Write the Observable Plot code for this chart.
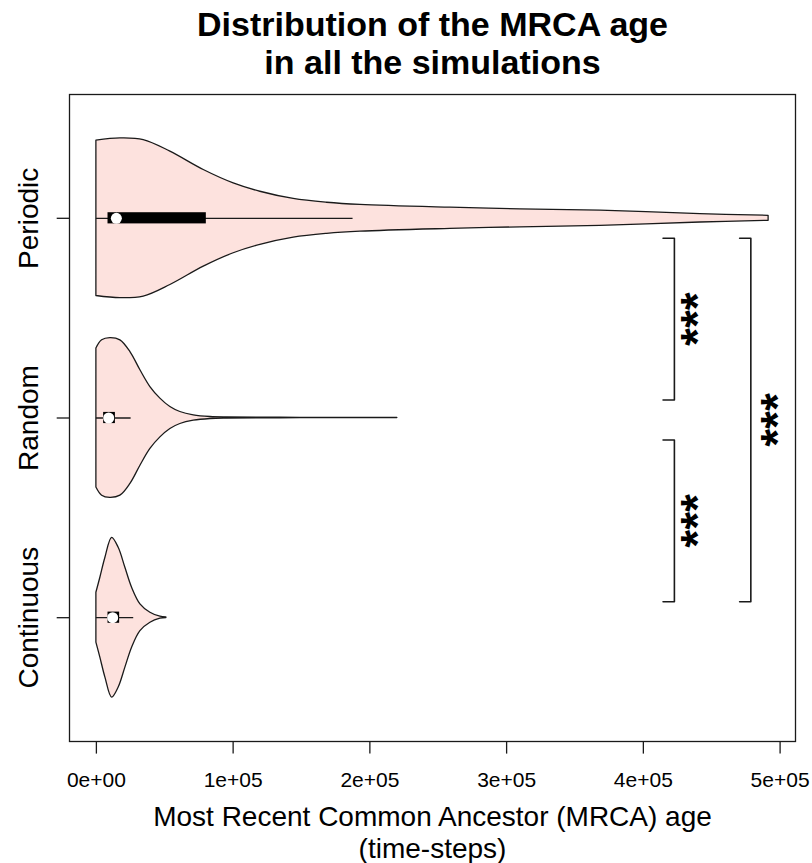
<!DOCTYPE html>
<html><head><meta charset="utf-8">
<script src="https://cdn.jsdelivr.net/npm/d3@7"></script>
<script src="https://cdn.jsdelivr.net/npm/@observablehq/plot@0.6"></script>
<style>
html,body{margin:0;padding:0;background:#fff;}
#chart svg{display:block;}
</style></head>
<body><div id="chart"></div>
<script>
// categories on the y axis (bottom to top)
const categories = ["Continuous", "Random", "Periodic"];
const categoryPos = [1, 2, 3];

// violin outlines: MRCA age and half-width of the violin (in category units)
const periodicAge = [0, 17550, 34600, 54100, 78500, 100400, 119900, 144300, 168700, 193100, 258900, 310100, 368600, 441700, 491600];
const periodicHalfWidth = [0.389, 0.400, 0.392, 0.334, 0.242, 0.175, 0.133, 0.097, 0.078, 0.067, 0.053, 0.045, 0.038, 0.021, 0.0125];
const randomAge = [0, 4200, 10200, 17550, 24900, 32200, 39500, 46800, 54100, 61400, 71200, 83400, 95600, 149200, 220100];
const randomHalfWidth = [0.348, 0.389, 0.400, 0.389, 0.330, 0.239, 0.155, 0.097, 0.055, 0.030, 0.0135, 0.005, 0.0025, 0.001, 0.0005];
const continuousAge = [0, 2900, 6600, 11500, 16300, 21200, 26100, 32200, 39500, 46800, 51200];
const continuousHalfWidth = [0.125, 0.2, 0.3, 0.4, 0.35, 0.25, 0.15, 0.067, 0.025, 0.005, 0.0015];

// box summaries (Continuous, Random, Periodic)
const whiskerLow = [0, 0, 0];
const whiskerHigh = [27300, 25400, 187700];
const q1 = [8500, 5300, 8500];
const q3 = [17000, 13900, 80400];
const medians = [11900, 9000, 14600];

// significance brackets
const bracketTop = [2.9, 1.89, 2.9];
const bracketBottom = [2.09, 1.08, 1.08];
const bracketX = [422700, 422700, 478600];
const bracketTickX = [414400, 414400, 470400];
const starX = [431700, 431700, 490700];
const starLabels = ["***", "***", "***"];

// axis ticks and texts
const xTicks = [0, 100000, 200000, 300000, 400000, 500000];
const xTickLabels = ["0e+00", "1e+05", "2e+05", "3e+05", "4e+05", "5e+05"];
const titleLines = ["Distribution of the MRCA age", "in all the simulations"];
const xTitleLines = ["Most Recent Common Ancestor (MRCA) age", "(time-steps)"];

// build tables
const violins = [
  {cat: "Continuous", pos: 1, age: continuousAge, hw: continuousHalfWidth},
  {cat: "Random", pos: 2, age: randomAge, hw: randomHalfWidth},
  {cat: "Periodic", pos: 3, age: periodicAge, hw: periodicHalfWidth}
];
const violinRows = violins.flatMap(v => v.age.map((a, i) => ({cat: v.cat, age: a, lo: v.pos - v.hw[i], hi: v.pos + v.hw[i]})));
const boxRows = categories.map((c, i) => ({cat: c, pos: categoryPos[i], wlo: whiskerLow[i], whi: whiskerHigh[i], q1: q1[i], q3: q3[i], med: medians[i]}));
const bracketRows = bracketX.flatMap((bx, i) => [
  {id: i, x: bracketTickX[i], y: bracketTop[i]},
  {id: i, x: bx, y: bracketTop[i]},
  {id: i, x: bx, y: bracketBottom[i]},
  {id: i, x: bracketTickX[i], y: bracketBottom[i]}
]);
const starRows = starX.map((x, i) => ({x, y: (bracketTop[i] + bracketBottom[i]) / 2, label: starLabels[i]}));
const xLabelMap = new Map(xTicks.map((t, i) => [t, xTickLabels[i]]));

const boxHalf = 0.028;
const ink = "#1a1a1a";

const chart = Plot.plot({
  width: 812,
  height: 863,
  marginLeft: 69,
  marginRight: 17,
  marginTop: 94,
  marginBottom: 122,
  x: {domain: [-19664, 511264]},
  y: {domain: [0.38, 3.62]},
  style: {fontFamily: "'Liberation Sans', Arial, sans-serif", color: "#000", background: "#fff"},
  marks: [
    Plot.areaY(violinRows, {x: "age", y1: "lo", y2: "hi", z: "cat", fill: "#fde2de", stroke: ink, strokeWidth: 1.3, curve: "catmull-rom"}),
    Plot.ruleY(boxRows, {y: "pos", x1: "wlo", x2: "whi", stroke: ink, strokeWidth: 1.3}),
    Plot.rect(boxRows, {x1: "q1", x2: "q3", y1: d => d.pos - boxHalf, y2: d => d.pos + boxHalf, fill: "#000"}),
    Plot.dot(boxRows, {x: "med", y: "pos", r: 5.5, fill: "#fff", stroke: null}),
    Plot.line(bracketRows, {x: "x", y: "y", z: "id", stroke: ink, strokeWidth: 1.6}),
    Plot.text(starRows, {x: "x", y: "y", text: "label", rotate: -90, fontSize: 46, fontWeight: "bold", lineAnchor: "bottom", textAnchor: "middle", dx: 26}),
    Plot.frame({stroke: ink, strokeWidth: 1.3}),
    Plot.axisX({ticks: xTicks, tickFormat: d => xLabelMap.get(d), tickSize: 12.6, tickPadding: 18, fontSize: 21, stroke: ink, strokeWidth: 1.3, label: null}),
    Plot.axisY({ticks: categoryPos, tickFormat: () => "", tickSize: 12.3, stroke: ink, strokeWidth: 1.3, label: null}),
    Plot.text(categories, {y: categoryPos, frameAnchor: "left", dx: -32, rotate: -90, fontSize: 28, lineAnchor: "bottom", textAnchor: "middle"}),
    Plot.text([titleLines[0]], {frameAnchor: "top", dy: -59, fontSize: 34, fontWeight: "bold", lineAnchor: "bottom"}),
    Plot.text([titleLines[1]], {frameAnchor: "top", dy: -21, fontSize: 34, fontWeight: "bold", lineAnchor: "bottom"}),
    Plot.text([xTitleLines[0]], {frameAnchor: "bottom", dy: 84, fontSize: 28, lineAnchor: "bottom"}),
    Plot.text([xTitleLines[1]], {frameAnchor: "bottom", dy: 116, fontSize: 28, lineAnchor: "bottom"})
  ]
});
document.getElementById("chart").appendChild(chart);
</script>
</body></html>
